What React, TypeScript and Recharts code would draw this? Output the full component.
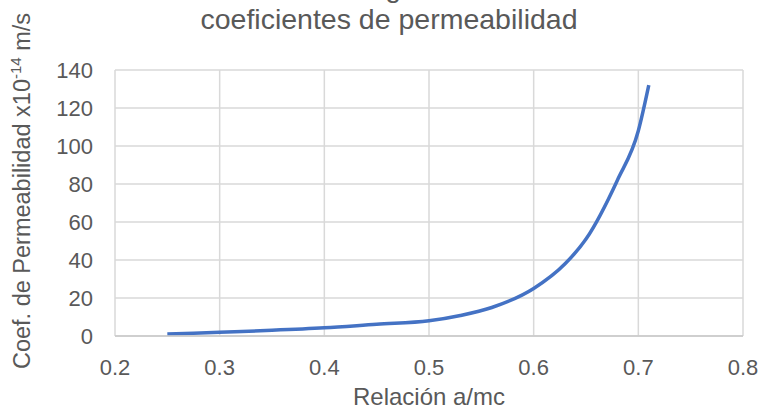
import { CartesianGrid, Line, LineChart, XAxis, YAxis } from "recharts";

const relacion = [0.25, 0.3, 0.35, 0.4, 0.45, 0.5, 0.53, 0.56, 0.6, 0.63, 0.65, 0.68, 0.7, 0.71];
const coeficiente = [1, 2, 3, 4.3, 6.2, 8, 10.8, 15, 25, 38, 51, 82, 108, 132];

const xTicks = [0.2, 0.3, 0.4, 0.5, 0.6, 0.7, 0.8];
const yTicks = [0, 20, 40, 60, 80, 100, 120, 140];

// the first title line is cut off at the top edge in the original
const tituloLinea1 = "La relación agua-cemento vs";
const tituloLinea2 = "coeficientes de permeabilidad";
const ejeX = "Relación a/mc";

const font = "'Liberation Sans', Arial, sans-serif";
const gris = "#595959";

const data = relacion.map((x, i) => ({ x, y: coeficiente[i] }));

function YLabel(props: any) {
  const vb = props.viewBox || {};
  const cx = 30;
  const cy = vb.y + vb.height / 2 - 12;
  return (
    <text
      x={cx}
      y={cy}
      transform={`rotate(-90 ${cx} ${cy})`}
      textAnchor="middle"
      fill={gris}
      fontFamily={font}
      fontSize={23.5}
    >
      Coef. de Permeabilidad x10
      <tspan dy={-9} fontSize={15}>-14</tspan>
      <tspan dy={9}> m/s</tspan>
    </text>
  );
}

export default function App() {
  return (
    <div style={{ position: "absolute", left: 0, top: 0, width: 762, height: 410, background: "#fff" }}>
      <LineChart
        width={762}
        height={410}
        data={data}
        margin={{ top: 70, right: 19, left: 0, bottom: 0 }}
      >
        <CartesianGrid stroke="#d9d9d9" strokeWidth={1.5} />
        <XAxis
          dataKey="x"
          type="number"
          domain={[0.2, 0.8]}
          ticks={xTicks}
          tickFormatter={(v) => Number(v).toFixed(1)}
          tickLine={false}
          tickSize={0}
          tickMargin={23}
          axisLine={{ stroke: "#c9c9c9", strokeWidth: 1.5 }}
          height={74}
          tick={{ fill: gris, fontFamily: font, fontSize: 22 }}
          label={{
            value: ejeX,
            position: "insideBottom",
            offset: 5,
            fill: gris,
            fontFamily: font,
            fontSize: 24,
          }}
        />
        <YAxis
          type="number"
          domain={[0, 140]}
          ticks={yTicks}
          tickLine={false}
          tickSize={0}
          tickMargin={22}
          axisLine={false}
          width={115}
          tick={{ fill: gris, fontFamily: font, fontSize: 22 }}
          label={<YLabel />}
        />
        <Line
          dataKey="y"
          type="monotone"
          stroke="#4472c4"
          strokeWidth={3.5}
          dot={false}
          isAnimationActive={false}
        />
      </LineChart>
      <svg
        width={762}
        height={410}
        style={{ position: "absolute", left: 0, top: 0, pointerEvents: "none" }}
      >
        <text x={405} y={-3} textAnchor="middle" fill={gris} fontFamily={font} fontSize={28.5}>
          {tituloLinea1}
        </text>
        <text x={389} y={29} textAnchor="middle" fill={gris} fontFamily={font} fontSize={28.5}>
          {tituloLinea2}
        </text>
      </svg>
    </div>
  );
}
